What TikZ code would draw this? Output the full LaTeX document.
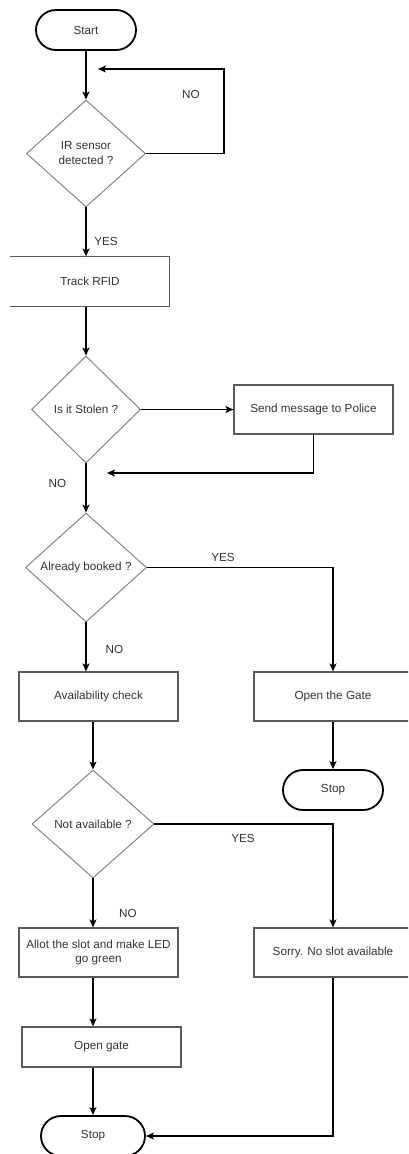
\documentclass[tikz,border=0pt]{standalone}
\usepackage{fontspec}
\setmainfont{Liberation Sans}
\usetikzlibrary{shapes.geometric,arrows.meta}
\definecolor{txt}{HTML}{333333}
\definecolor{boxc}{HTML}{5A5A5A}
\definecolor{diac}{HTML}{7A7A7A}
\begin{document}
\begin{tikzpicture}[x=1pt,y=-1pt,
 font=\fontsize{11.7}{14}\selectfont, text=txt,
 term/.style={draw=black,line width=1.8pt,rounded corners=20pt,minimum width=100pt,minimum height=40pt,inner sep=0pt},
 proc/.style={draw=boxc,line width=1.2pt,minimum height=49pt,inner sep=0pt},
 dec/.style={diamond,draw=diac,line width=0.9pt,aspect=1,inner sep=0pt},
 lbl/.style={inner sep=0pt},
 arr/.style={draw=black,line width=1.2pt,-{Stealth[length=8pt,width=7pt,inset=2pt]}},
 boxline/.style={draw=boxc,line width=1.2pt}]
\clip (0,0) rectangle (408,1154);
% nodes
\node[term] (start) at (86,30) {Start};
\node[dec,minimum width=119pt,minimum height=107pt,align=center] (d1) at (86,153.5) {IR sensor\\[1pt]detected ?};
\node[proc,minimum width=158pt,draw=none] (track) at (90,281.5) {Track RFID};
\node[dec,minimum width=109pt,minimum height=107pt] (d2) at (86,409.5) {Is it Stolen ?};
\node[proc,minimum width=159pt] (police) at (313.5,409.5) {Send message to Police};
\node[dec,minimum width=121pt,minimum height=109pt] (d3) at (86,567.5) {Already booked ?};
\node[proc,minimum width=159pt] (avail) at (98.5,696.5) {Availability check};
\node[proc,minimum width=158pt] (gate1) at (333,696.5) {Open the Gate};
\node[term] (stop1) at (333,790) {Stop};
\node[dec,minimum width=122pt,minimum height=108pt] (d4) at (93,824) {Not available ?};
\node[proc,minimum width=159pt,align=center] (allot) at (98.5,952.5) {Allot the slot and make LED\\go green};
\node[proc,minimum width=158pt] (sorry) at (333,952.5) {Sorry. No slot available};
\node[proc,minimum width=159pt,minimum height=40pt] (gate2) at (101.5,1047) {Open gate};
\node[term,minimum width=104pt] (stop2) at (93,1136) {Stop};
% open-left box outline of Track RFID
\draw[boxline] (track.north west) -- (track.north east) -- (track.south east) -- (track.south west);
% free ends
\coordinate (loopc) at (224,69);
\coordinate (loopend) at (98,69);
\coordinate (retend) at (107,473);
% connectors
\draw[arr] (start) -- (d1);
\draw[arr] (d1.east) -| (loopc) -- (loopend);
\node[lbl] at (191,94) {NO};
\draw[arr] (d1.south) -- (track.north -| d1);
\node[lbl] at (106,241) {YES};
\draw[arr] (track.south -| d2) -- (d2.north);
\draw[arr] (d2.east) -- (police.west);
\draw[arr] (police.south) |- (retend);
\node[lbl] at (57.5,483) {NO};
\draw[arr] (d2.south) -- (d3.north);
\draw[arr] (d3.east) -| (gate1.north);
\node[lbl] at (223,557) {YES};
\draw[arr] (d3.south) -- (avail.north -| d3);
\node[lbl] at (114.5,649) {NO};
\draw[arr] (gate1) -- (stop1);
\draw[arr] (avail.south -| d4) -- (d4.north);
\draw[arr] (d4.east) -| (sorry.north);
\node[lbl] at (243,838) {YES};
\draw[arr] (d4.south) -- (allot.north -| d4);
\node[lbl] at (128,913) {NO};
\draw[arr] (allot.south -| d4) -- (gate2.north -| d4);
\draw[arr] (gate2.south -| d4) -- (stop2.north);
\draw[arr] (sorry.south) |- (stop2.east);
\end{tikzpicture}
\end{document}
